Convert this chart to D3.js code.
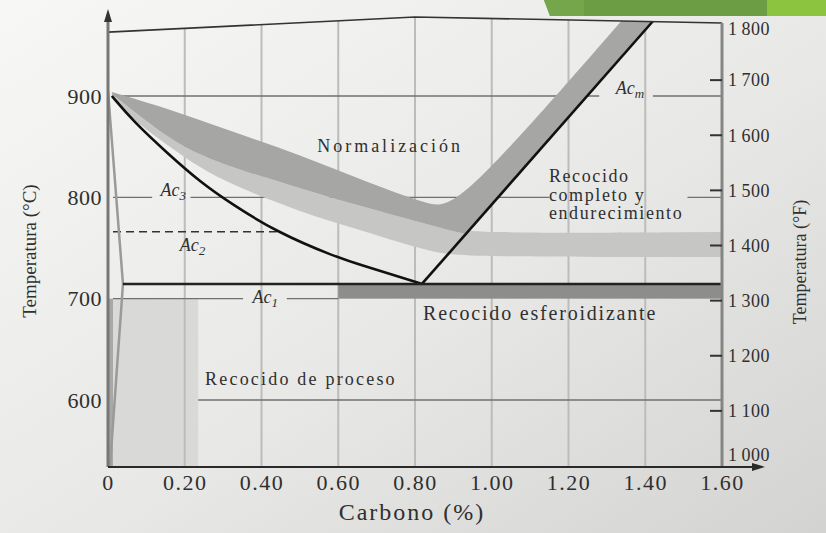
<!DOCTYPE html>
<html>
<head>
<meta charset="utf-8">
<script src="https://cdn.jsdelivr.net/npm/d3@7"></script>
<style>
  body { margin: 0; background: #e4e4e2; }
  svg { display: block; }
  text { font-family: "Liberation Serif", "Times New Roman", serif; fill: #2f2f2f; }
</style>
</head>
<body>
<svg id="chart" width="826" height="533"></svg>
<script>
// ---- data (carbon %, temperature °C / °F) ----
const carbonTicks = [0, 0.2, 0.4, 0.6, 0.8, 1.0, 1.2, 1.4, 1.6];
const carbonTickLabels = ['0', '0.20', '0.40', '0.60', '0.80', '1.00', '1.20', '1.40', '1.60'];
const gridCarbon = [0.2, 0.4, 0.6, 0.8, 1.0, 1.2, 1.4];
const tempCTicks = [600, 700, 800, 900];
const tempFTicks = [1000, 1100, 1200, 1300, 1400, 1500, 1600, 1700, 1800];
const tempFTickLabels = ['1\u2009000', '1\u2009100', '1\u2009200', '1\u2009300', '1\u2009400', '1\u2009500', '1\u2009600', '1\u2009700', '1\u2009800'];
const tempFMarked = [1100, 1200, 1300, 1400, 1500, 1600, 1700];

const frameTop = [[0, 963], [0.8, 978], [1.6, 972]];
const tempMin = 534;

const ac3Curve = [[0.01, 900], [0.065, 875.3], [0.154, 843.8], [0.24, 815.1], [0.326, 792.4],
  [0.44, 765.8], [0.586, 742.1], [0.675, 731.2], [0.761, 721.4], [0.818, 714.5]];
const acmLine = [[0.818, 714.5], [1.425, 976]];
const ac1Line = [[0.039, 714.5], [1.6, 714.5]];
const ferriteLine = [[0, 905], [0.039, 714.5], [0.005, 534]];
const ac2Line = [[0.013, 766], [0.44, 766]];

const normUpper = [[0.01, 904], [0.154, 888], [0.326, 864.5], [0.5, 842], [0.675, 815], [0.839, 792.4], [0.91, 788], [1.34, 975]];
const normLower = [[0.01, 902], [0.154, 858.6], [0.24, 841.8], [0.326, 829], [0.5, 809], [0.675, 789.5], [0.839, 772.7], [0.93, 764]];
const annealUpperRight = [[1.6, 765.8]];
const annealLower = [[0.01, 900], [0.05, 881], [0.154, 851.6], [0.24, 829], [0.326, 812], [0.5, 785.5],
  [0.675, 765.8], [0.839, 746], [0.93, 741], [1.6, 741]];

const spheroRange = { c: [0.6, 1.6], t: [700, 714.5] };
const processRange = { c: [0.013, 0.235], t: [534, 700] };
const processStrip = { c: [0, 0.013], t: [534, 700] };

// horizontal reference lines: temperature, extent and gaps left for labels
const hLines = [
  { t: 900, from: 0.013, to: 1.6, gaps: [[1.28, 1.42]] },
  { t: 800, from: 0.013, to: 1.6, gaps: [[0.115, 0.215], [1.15, 1.51]] },
  { t: 700, from: 0.013, to: 0.6, gaps: [[0.352, 0.466]] },
  { t: 600, from: 0.235, to: 1.6, gaps: [] }
];

const acLabels = [
  { c: 0.17, t: 801, sub: '3' },
  { c: 0.22, t: 747, sub: '2' },
  { c: 0.41, t: 695.5, sub: '1' },
  { c: 1.36, t: 902, sub: 'm' }
];
const regionLabels = [
  { c: 0.545, t: 845, lines: ['Normalización'], size: 18, ls: 3 },
  { c: 1.149, t: 815, lines: ['Recocido', 'completo y', 'endurecimiento'], size: 18, ls: 1.6 },
  { c: 0.821, t: 679, lines: ['Recocido esferoidizante'], size: 20, ls: 1.8 },
  { c: 0.253, t: 615, lines: ['Recocido de proceso'], size: 18, ls: 2.2 }
];

// ---- scales ----
const svg = d3.select('#chart');
const x = d3.scaleLinear().domain([0, 1.6]).range([108, 722]);
const y = d3.scaleLinear().domain([600, 900]).range([400, 96]);
const yF = d3.scaleLinear().domain([1000, 1800]).range([466, 25]);

// background paper
const defs = svg.append('defs');
const bg = defs.append('linearGradient').attr('id', 'paper')
  .attr('x1', 0).attr('y1', 0).attr('x2', 1).attr('y2', 1);
bg.append('stop').attr('offset', '0%').attr('stop-color', '#f7f7f5');
bg.append('stop').attr('offset', '55%').attr('stop-color', '#e8e8e6');
bg.append('stop').attr('offset', '100%').attr('stop-color', '#d3d3d1');
svg.append('rect').attr('width', 826).attr('height', 533).attr('fill', 'url(#paper)');

// green slide banner
svg.append('polygon').attr('points', '544,0 767,0 767,16 550,16').attr('fill', '#6c9c44');
svg.append('polygon').attr('points', '544,0 584,0 584,16 550,16').attr('fill', '#76a64c');
svg.append('rect').attr('x', 767).attr('y', 0).attr('width', 59).attr('height', 16).attr('fill', '#8dc43f');

// clip to the frame
const framePts = [[0, tempMin]].concat(frameTop, [[1.6, tempMin]]);
defs.append('clipPath').attr('id', 'frame')
  .append('path')
  .attr('d', d3.line().x(d => x(d[0])).y(d => y(d[1]))(framePts) + 'Z');

const plot = svg.append('g').attr('clip-path', 'url(#frame)');

const lineLin = d3.line().x(d => x(d[0])).y(d => y(d[1]));
const lineBand = d3.line().x(d => x(d[0])).y(d => y(d[1])).curve(d3.curveBasis);

// process anneal + strip along the axis
plot.append('rect')
  .attr('x', x(processRange.c[0])).attr('width', x(processRange.c[1]) - x(processRange.c[0]))
  .attr('y', y(processRange.t[1])).attr('height', y(processRange.t[0]) - y(processRange.t[1]))
  .attr('fill', '#d9d9d8');
plot.append('rect')
  .attr('x', x(processStrip.c[0])).attr('width', x(processStrip.c[1]) - x(processStrip.c[0]))
  .attr('y', y(processStrip.t[1])).attr('height', y(processStrip.t[0]) - y(processStrip.t[1]))
  .attr('fill', '#a8a8a8');

// vertical grid
plot.selectAll('.vgrid').data(gridCarbon).enter().append('line')
  .attr('x1', d => x(d)).attr('x2', d => x(d))
  .attr('y1', y(tempMin)).attr('y2', 0)
  .attr('stroke', '#bcbcbc').attr('stroke-width', 2);

// horizontal reference lines with gaps for labels
hLines.forEach(h => {
  let start = h.from;
  const segs = [];
  h.gaps.forEach(g => { segs.push([start, g[0]]); start = g[1]; });
  segs.push([start, h.to]);
  plot.selectAll(null).data(segs).enter().append('line')
    .attr('x1', d => x(d[0])).attr('x2', d => x(d[1]))
    .attr('y1', y(h.t)).attr('y2', y(h.t))
    .attr('stroke', '#707070').attr('stroke-width', 1.3);
});

// full anneal / hardening band (light)
plot.append('path')
  .attr('d', lineBand(normLower.concat(annealUpperRight)) +
    lineBand(annealLower.slice().reverse()).replace(/^M/, 'L') + 'Z')
  .attr('fill', '#c6c6c5');

// normalizing band (dark), its right leg runs along Acm
plot.append('path')
  .attr('d', lineBand(normUpper) + ' L' + x(acmLine[1][0]) + ',' + y(acmLine[1][1]) +
    lineBand(normLower.slice().reverse()).replace(/^M/, 'L') + 'Z')
  .attr('fill', '#a6a6a5');

// spheroidizing band
plot.append('rect')
  .attr('x', x(spheroRange.c[0])).attr('width', x(spheroRange.c[1]) - x(spheroRange.c[0]))
  .attr('y', y(spheroRange.t[1])).attr('height', y(spheroRange.t[0]) - y(spheroRange.t[1]))
  .attr('fill', '#8d8d8c');

// Ac2 dashed
plot.append('path').attr('d', lineLin(ac2Line))
  .attr('stroke', '#333').attr('stroke-width', 1.4).attr('stroke-dasharray', '8,5').attr('fill', 'none');

// ferrite boundary near pure iron
plot.append('path').attr('d', lineLin(ferriteLine))
  .attr('stroke', '#9a9a9a').attr('stroke-width', 2.5).attr('fill', 'none');

// critical lines
plot.append('path').attr('d', lineBand(ac3Curve))
  .attr('stroke', '#111').attr('stroke-width', 2.6).attr('fill', 'none');
plot.append('path').attr('d', lineLin(acmLine))
  .attr('stroke', '#111').attr('stroke-width', 2.6).attr('fill', 'none');
plot.append('path').attr('d', lineLin(ac1Line))
  .attr('stroke', '#222').attr('stroke-width', 2.4).attr('fill', 'none');

// frame: top, right axis, left axis, bottom axis
svg.append('path').attr('d', lineLin(frameTop))
  .attr('stroke', '#333').attr('stroke-width', 1.6).attr('fill', 'none');
svg.append('line').attr('x1', x(1.6)).attr('x2', x(1.6)).attr('y1', y(frameTop[2][1])).attr('y2', y(tempMin))
  .attr('stroke', '#858585').attr('stroke-width', 3);
svg.selectAll('.ftick').data(tempFMarked).enter().append('line')
  .attr('x1', x(1.6) - 12).attr('x2', x(1.6))
  .attr('y1', d => yF(d)).attr('y2', d => yF(d))
  .attr('stroke', '#333').attr('stroke-width', 2);

svg.append('line').attr('x1', x(0)).attr('x2', x(0)).attr('y1', y(tempMin)).attr('y2', 20)
  .attr('stroke', '#777').attr('stroke-width', 3);
svg.append('path').attr('d', `M${x(0) - 4},22 L${x(0)},9 L${x(0) + 4},22 Z`).attr('fill', '#333');
svg.append('line').attr('x1', x(0)).attr('x2', 755).attr('y1', y(tempMin)).attr('y2', y(tempMin))
  .attr('stroke', '#2a2a2a').attr('stroke-width', 2);
svg.append('path').attr('d', `M752,${y(tempMin) - 4} L765,${y(tempMin)} L752,${y(tempMin) + 4} Z`).attr('fill', '#2a2a2a');

// axes (labels only)
const xAxis = svg.append('g').attr('transform', `translate(0,${y(tempMin)})`)
  .call(d3.axisBottom(x).tickValues(carbonTicks).tickFormat((d, i) => carbonTickLabels[i]).tickSize(0).tickPadding(8));
const yAxis = svg.append('g').attr('transform', `translate(${x(0)},0)`)
  .call(d3.axisLeft(y).tickValues(tempCTicks).tickFormat(d3.format('d')).tickSize(0).tickPadding(6));
const yAxisR = svg.append('g').attr('transform', `translate(${x(1.6)},0)`)
  .call(d3.axisRight(yF).tickValues(tempFTicks).tickFormat((d, i) => tempFTickLabels[i]).tickSize(0).tickPadding(6));
[xAxis, yAxis, yAxisR].forEach(g => { g.select('.domain').remove(); g.selectAll('.tick line').remove(); });
xAxis.selectAll('text').attr('font-size', 22).style('letter-spacing', '1.5px')
  .style('font-family', '"Liberation Serif", serif').attr('fill', '#2f2f2f');
yAxis.selectAll('text').attr('font-size', 22).style('letter-spacing', '0.5px')
  .style('font-family', '"Liberation Serif", serif').attr('fill', '#444');
yAxisR.selectAll('text').attr('font-size', 18).style('letter-spacing', '0.5px')
  .style('font-family', '"Liberation Serif", serif').attr('fill', '#333')
  // end labels sit just inside the frame corners
  .attr('dy', d => d === 1000 ? '-0.3em' : (d === 1800 ? '0.5em' : '0.32em'));

// Ac labels
acLabels.forEach(a => {
  const t = svg.append('text').attr('x', x(a.c)).attr('y', y(a.t))
    .attr('text-anchor', 'middle').attr('font-size', 18).attr('font-style', 'italic').attr('fill', '#333');
  t.append('tspan').text('Ac');
  t.append('tspan').attr('dy', 4).attr('font-size', 13).text(a.sub);
});

// region labels
regionLabels.forEach(r => {
  const t = svg.append('text').attr('x', x(r.c)).attr('y', y(r.t))
    .attr('font-size', r.size).style('letter-spacing', r.ls + 'px').attr('fill', '#2a2a2a');
  r.lines.forEach((s, i) => {
    t.append('tspan').attr('x', x(r.c)).attr('dy', i === 0 ? 0 : 18.5).text(s);
  });
});

// axis titles
svg.append('text').attr('x', 412).attr('y', 520).attr('text-anchor', 'middle')
  .attr('font-size', 24).style('letter-spacing', '2px').text('Carbono (%)');
svg.append('text').attr('transform', 'translate(36,251) rotate(-90)').attr('text-anchor', 'middle')
  .attr('font-size', 19).attr('fill', '#555').text('Temperatura (°C)');
svg.append('text').attr('transform', 'translate(806,262) rotate(-90)').attr('text-anchor', 'middle')
  .attr('font-size', 18).attr('fill', '#333').text('Temperatura (°F)');
</script>
</body>
</html>
